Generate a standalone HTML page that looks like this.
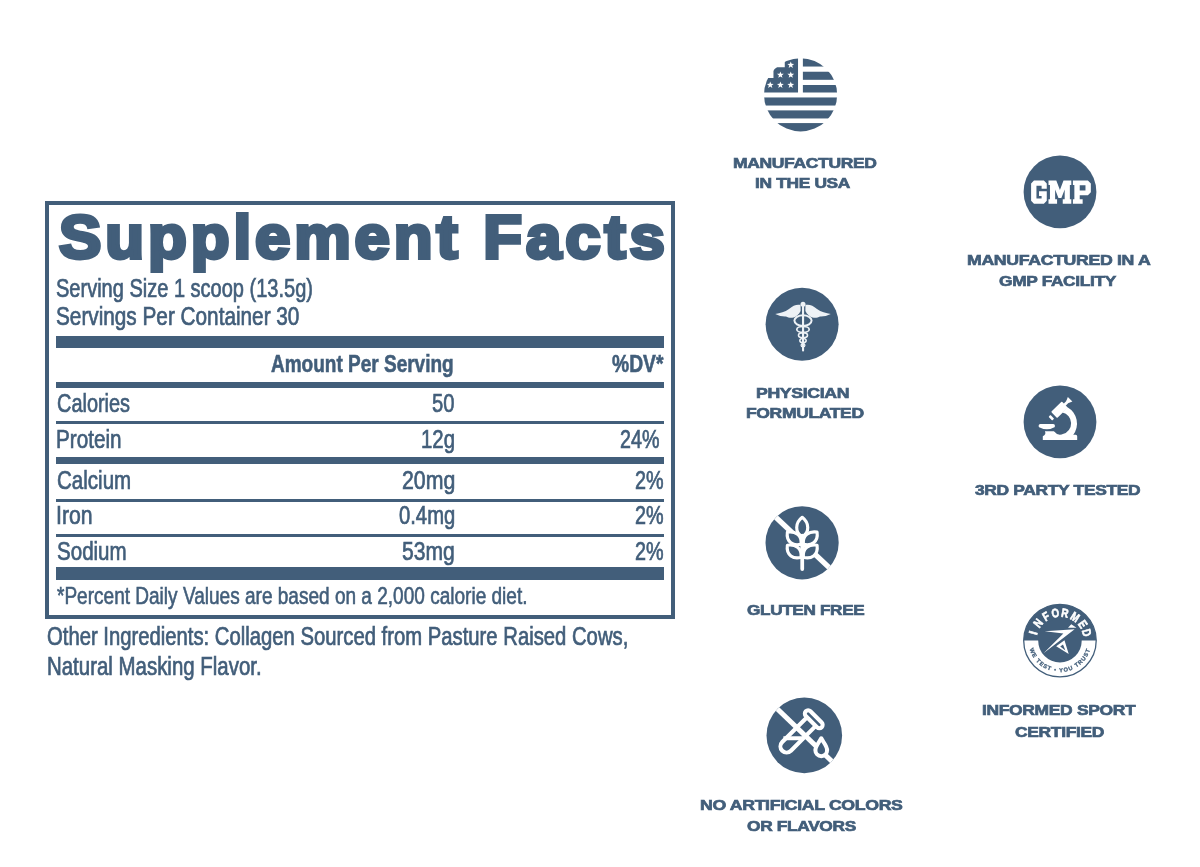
<!DOCTYPE html>
<html><head><meta charset="utf-8"><title>Supplement Facts</title>
<style>
html,body{margin:0;padding:0;background:#fff;}
body{width:1200px;height:867px;position:relative;overflow:hidden;font-family:"Liberation Sans",sans-serif;color:#425e7a;}
#wrap{position:absolute;left:0;top:0;width:1200px;height:867px;filter:blur(0.6px);}
.t{position:absolute;white-space:nowrap;line-height:1;transform-origin:0 0;}
.r{position:absolute;background:#425e7a;}
#panel{position:absolute;left:44.9px;top:201.3px;width:622.5px;height:409.3px;border:4.1px solid #425e7a;}
svg{position:absolute;overflow:visible;}
</style></head><body><div id="wrap">
<div id="panel"></div>
<div class="r" style="left:56.2px;top:336.1px;width:608.0px;height:12.3px"></div>
<div class="r" style="left:56.2px;top:382.1px;width:608.0px;height:5.5px"></div>
<div class="r" style="left:56.2px;top:420.8px;width:608.0px;height:3.1px"></div>
<div class="r" style="left:56.2px;top:457.3px;width:608.0px;height:7.0px"></div>
<div class="r" style="left:56.2px;top:499.4px;width:608.0px;height:3.1px"></div>
<div class="r" style="left:56.2px;top:533.5px;width:608.0px;height:3.1px"></div>
<div class="r" style="left:56.2px;top:567.4px;width:608.0px;height:12.5px"></div>
<div class="t" style="left:59.13px;top:205.96px;font-size:61.48px;transform:scaleX(1.0330);font-weight:700;letter-spacing:3.8px;-webkit-text-stroke:3.8px #425e7a;">Supplement Facts</div>
<div class="t" style="left:56.49px;top:276.45px;font-size:25.58px;transform:scaleX(0.7823);-webkit-text-stroke:0.7px #425e7a;">Serving Size 1 scoop (13.5g)</div>
<div class="t" style="left:56.47px;top:304.05px;font-size:25.58px;transform:scaleX(0.8114);-webkit-text-stroke:0.7px #425e7a;">Servings Per Container 30</div>
<div class="t" style="left:270.93px;top:351.88px;font-size:24.71px;transform:scaleX(0.7693);font-weight:700;-webkit-text-stroke:0.6px #425e7a;">Amount Per Serving</div>
<div class="t" style="left:611.93px;top:351.88px;font-size:24.71px;transform:scaleX(0.7805);font-weight:700;-webkit-text-stroke:0.6px #425e7a;">%DV*</div>
<div class="t" style="left:56.70px;top:390.26px;font-size:26.16px;transform:scaleX(0.7618);-webkit-text-stroke:0.7px #425e7a;">Calories</div>
<div class="t" style="left:432.00px;top:390.26px;font-size:26.16px;transform:scaleX(0.7718);-webkit-text-stroke:0.7px #425e7a;">50</div>
<div class="t" style="left:55.89px;top:425.86px;font-size:26.16px;transform:scaleX(0.7910);-webkit-text-stroke:0.7px #425e7a;">Protein</div>
<div class="t" style="left:421.19px;top:425.86px;font-size:26.16px;transform:scaleX(0.7800);-webkit-text-stroke:0.7px #425e7a;">12g</div>
<div class="t" style="left:619.51px;top:425.86px;font-size:26.16px;transform:scaleX(0.7530);-webkit-text-stroke:0.7px #425e7a;">24%</div>
<div class="t" style="left:56.69px;top:466.56px;font-size:26.16px;transform:scaleX(0.7849);-webkit-text-stroke:0.7px #425e7a;">Calcium</div>
<div class="t" style="left:401.97px;top:466.56px;font-size:26.16px;transform:scaleX(0.8147);-webkit-text-stroke:0.7px #425e7a;">20mg</div>
<div class="t" style="left:635.21px;top:466.56px;font-size:26.16px;transform:scaleX(0.7571);-webkit-text-stroke:0.7px #425e7a;">2%</div>
<div class="t" style="left:55.86px;top:501.96px;font-size:26.16px;transform:scaleX(0.8123);-webkit-text-stroke:0.7px #425e7a;">Iron</div>
<div class="t" style="left:399.00px;top:501.96px;font-size:26.16px;transform:scaleX(0.7735);-webkit-text-stroke:0.7px #425e7a;">0.4mg</div>
<div class="t" style="left:635.21px;top:501.96px;font-size:26.16px;transform:scaleX(0.7571);-webkit-text-stroke:0.7px #425e7a;">2%</div>
<div class="t" style="left:56.69px;top:537.56px;font-size:26.16px;transform:scaleX(0.7854);-webkit-text-stroke:0.7px #425e7a;">Sodium</div>
<div class="t" style="left:402.48px;top:537.56px;font-size:26.16px;transform:scaleX(0.8068);-webkit-text-stroke:0.7px #425e7a;">53mg</div>
<div class="t" style="left:635.21px;top:537.56px;font-size:26.16px;transform:scaleX(0.7571);-webkit-text-stroke:0.7px #425e7a;">2%</div>
<div class="t" style="left:56.54px;top:583.62px;font-size:23.84px;transform:scaleX(0.7988);-webkit-text-stroke:0.6px #425e7a;">*Percent Daily Values are based on a 2,000 calorie diet.</div>
<div class="t" style="left:47.47px;top:624.76px;font-size:24.85px;transform:scaleX(0.8158);-webkit-text-stroke:0.7px #425e7a;">Other Ingredients: Collagen Sourced from Pasture Raised Cows,</div>
<div class="t" style="left:46.64px;top:655.36px;font-size:24.85px;transform:scaleX(0.8225);-webkit-text-stroke:0.7px #425e7a;">Natural Masking Flavor.</div>
<div class="t" style="left:732.96px;top:154.96px;font-size:15.41px;transform:scaleX(1.1356);font-weight:700;letter-spacing:-0.3px;-webkit-text-stroke:0.7px #425e7a;">MANUFACTURED</div>
<div class="t" style="left:755.37px;top:175.16px;font-size:15.41px;transform:scaleX(1.1273);font-weight:700;letter-spacing:-0.3px;-webkit-text-stroke:0.7px #425e7a;">IN THE USA</div>
<div class="t" style="left:967.05px;top:252.06px;font-size:15.41px;transform:scaleX(1.1497);font-weight:700;letter-spacing:-0.3px;-webkit-text-stroke:0.7px #425e7a;">MANUFACTURED IN A</div>
<div class="t" style="left:998.99px;top:273.06px;font-size:15.41px;transform:scaleX(1.1249);font-weight:700;letter-spacing:-0.3px;-webkit-text-stroke:0.7px #425e7a;">GMP FACILITY</div>
<div class="t" style="left:756.36px;top:384.96px;font-size:15.41px;transform:scaleX(1.1460);font-weight:700;letter-spacing:-0.3px;-webkit-text-stroke:0.7px #425e7a;">PHYSICIAN</div>
<div class="t" style="left:746.16px;top:405.46px;font-size:15.41px;transform:scaleX(1.1356);font-weight:700;letter-spacing:-0.3px;-webkit-text-stroke:0.7px #425e7a;">FORMULATED</div>
<div class="t" style="left:974.60px;top:481.96px;font-size:15.41px;transform:scaleX(1.1310);font-weight:700;letter-spacing:-0.3px;-webkit-text-stroke:0.7px #425e7a;">3RD PARTY TESTED</div>
<div class="t" style="left:746.99px;top:602.46px;font-size:15.41px;transform:scaleX(1.1138);font-weight:700;letter-spacing:-0.3px;-webkit-text-stroke:0.7px #425e7a;">GLUTEN FREE</div>
<div class="t" style="left:699.75px;top:796.76px;font-size:15.41px;transform:scaleX(1.1488);font-weight:700;letter-spacing:-0.3px;-webkit-text-stroke:0.7px #425e7a;">NO ARTIFICIAL COLORS</div>
<div class="t" style="left:747.49px;top:817.86px;font-size:15.41px;transform:scaleX(1.1242);font-weight:700;letter-spacing:-0.3px;-webkit-text-stroke:0.7px #425e7a;">OR FLAVORS</div>
<div class="t" style="left:982.26px;top:702.26px;font-size:15.41px;transform:scaleX(1.1332);font-weight:700;letter-spacing:-0.3px;-webkit-text-stroke:0.7px #425e7a;">INFORMED SPORT</div>
<div class="t" style="left:1015.10px;top:723.56px;font-size:15.41px;transform:scaleX(1.1323);font-weight:700;letter-spacing:-0.3px;-webkit-text-stroke:0.7px #425e7a;">CERTIFIED</div>
<!-- 1: USA flag ; viewBox in 8.667x zoomed coords of region (740,40) -->
<svg style="left:740px;top:40px" width="120" height="100" viewBox="0 0 1040 866.67">
<defs><clipPath id="c1"><circle cx="525" cy="475" r="317"/></clipPath></defs>
<g clip-path="url(#c1)" fill="#425e7a">
<rect x="545" y="150" width="320" height="80"/>
<rect x="545" y="275" width="320" height="70"/>
<rect x="545" y="390" width="320" height="65"/>
<rect x="200" y="498" width="660" height="70"/>
<rect x="200" y="610" width="660" height="70"/>
<rect x="200" y="720" width="660" height="80"/>
<path d="M503,150 V455 H200 V330 H290 V237 H388 V150 Z"/>
</g>
<g fill="#fff">
<path id="st" d="M0,-31 L7.5,-10.3 29.5,-9.6 12.1,4 18.2,25.1 0,12.6 -18.2,25.1 -12.1,4 -29.5,-9.6 -7.5,-10.3Z" transform="translate(440,217)"/>
<use href="#st" x="-90" y="86"/><use href="#st" x="0" y="86"/>
<use href="#st" x="-178" y="173"/><use href="#st" x="-90" y="173"/><use href="#st" x="0" y="173"/>
</g>
</svg>

<!-- 2: GMP -->
<svg style="left:1020px;top:150px" width="80" height="84" viewBox="1020 150 80 84">
<circle cx="1060" cy="191.9" r="36.4" fill="#425e7a"/>
<g fill="#fff">
<path transform="translate(1031.1,180.5) scale(0.955,1)" d="M3,0 H13.4 L16.4,3 V8.2 H11 V5.3 H5.6 V18 H11 V15.4 H8.3 V10.8 H16.4 V20.3 L13.4,23.3 H3 L0,20.3 V3 Z"/>
<path transform="translate(1048.5,180.5) scale(0.975,1)" d="M0,0 H8 L11.7,9.5 15.4,0 H23.4 V4.5 H21.9 V18.8 H23.4 V23.3 H14.6 V18.8 H16.6 V9 L13.2,17.5 H10.2 L6.8,9 V18.8 H8.8 V23.3 H0 V18.8 H1.5 V4.5 H0 Z"/>
<path transform="translate(1072.9,180.5) scale(0.975,1)" fill-rule="evenodd" d="M0,0 H15.4 L18.4,3 V11.7 L15.4,14.7 H7 V18.8 H10 V23.3 H0 V18.8 H1.5 V4.5 H0 Z M7,4.8 H12.9 V9.9 H7 Z"/>
</g>
</svg>

<!-- 3: Caduceus -->
<svg style="left:760px;top:284px" width="84" height="82" viewBox="760 284 84 82">
<circle cx="802.1" cy="324.2" r="36.5" fill="#425e7a"/>
<g fill="#eef2f6" stroke="none">
<rect x="802" y="303" width="2.1" height="48.5" rx="1"/>
<circle cx="803" cy="304.2" r="2.5"/>
<path d="M800.6,305 C797,304 793,305.5 789,309 C785,312 780,313.3 775.2,314 C779,316 783,316.6 786,316.4 C788,317.6 791,318 793.5,317.4 C796,316.8 799,314.5 800.6,311 Z"/>
<path d="M805.4,305 C809,304 813,305.5 817,309 C821,312 826,313.3 830.8,314 C827,316 823,316.6 820,316.4 C818,317.6 815,318 812.5,317.4 C810,316.8 807,314.5 805.4,311 Z"/>
</g>
<g fill="none" stroke="#eef2f6">
<ellipse cx="803" cy="320.6" rx="8.6" ry="5.4" stroke-width="2"/>
<ellipse cx="803" cy="329.4" rx="6.2" ry="2.9" stroke-width="1.7"/>
<ellipse cx="803" cy="335.2" rx="4.5" ry="2.5" stroke-width="1.6"/>
<ellipse cx="803" cy="340.6" rx="3.2" ry="2.2" stroke-width="1.5"/>
<ellipse cx="803" cy="345.3" rx="1.9" ry="1.6" stroke-width="1.3"/>
</g>
</svg>

<!-- 4: Microscope ; zoomed 14.45x of region (1030,390) -->
<svg style="left:1020px;top:380px" width="80" height="84" viewBox="1020 380 80 84">
<circle cx="1060" cy="421.9" r="36.4" fill="#425e7a"/>
<g transform="translate(1030,390) scale(0.0692)" fill="#fff">
 <g transform="translate(425.7,285.7) rotate(-44.5)">
  <rect x="-108" y="-62" width="216" height="124" rx="12"/>
  <rect x="-183" y="-38" width="37" height="76" rx="8"/>
  <rect x="100" y="-21" width="75" height="42"/>
  <path d="M163,-23 L216,-47 V47 L163,23 Z"/>
 </g>
 <path d="M542,248 A274,274 0 0 1 624,650 L430,650 Q455,650 474.9,636.5 A161,161 0 0 0 468.1,323.8 Z"/>
 <path d="M150,493 H335 A26,26 0 0 1 335,545 Q300,568 245,568 Q190,568 150,545 A26,26 0 0 1 150,493 Z"/>
 <path d="M215,597 H345 Q380,640 430,648 H660 Q682,648 682,670 V722 H185 V668 Q240,640 215,597 Z"/>
</g>
</svg>

<!-- 5: Gluten free ; zoomed 13.333x of region (772,510) -->
<svg style="left:760px;top:500px" width="84" height="84" viewBox="760 500 84 84">
<defs><clipPath id="c5"><circle cx="802.1" cy="542.8" r="36.6"/></clipPath></defs>
<circle cx="802.1" cy="542.8" r="36.6" fill="#425e7a"/>
<g clip-path="url(#c5)">
<g transform="translate(772,510) scale(0.075)">
 <line x1="-100" y1="-46" x2="900" y2="899" stroke="#fff" stroke-width="70"/>
 <g fill="#425e7a" stroke="#fff" stroke-width="42" stroke-linejoin="round">
  <path d="M403,98 C310,170 300,300 403,355 C506,300 496,170 403,98 Z"/>
  <path d="M388,455 C290,485 185,430 205,295 C310,280 400,330 388,455 Z"/>
  <path d="M418,455 C516,485 621,430 601,295 C496,280 406,330 418,455 Z"/>
  <path d="M388,630 C290,660 185,605 205,470 C310,455 400,505 388,630 Z"/>
  <path d="M418,630 C516,660 621,605 601,470 C496,455 406,505 418,630 Z"/>
 </g>
 <line x1="403" y1="340" x2="403" y2="788" stroke="#fff" stroke-width="50" stroke-linecap="round"/>
</g></g>
</svg>

<!-- 6: No artificial colors ; zoomed 13.333x of region (774,702) -->
<svg style="left:762px;top:692px" width="86" height="86" viewBox="762 692 86 86">
<defs><clipPath id="c6"><circle cx="804.3" cy="735.4" r="37.8"/></clipPath></defs>
<circle cx="804.3" cy="735.4" r="37.8" fill="#425e7a"/>
<g clip-path="url(#c6)">
<g transform="translate(774,702) scale(0.075)" stroke="#fff" stroke-width="54" fill="none">
 <line x1="-100" y1="-47" x2="900" y2="914" stroke-width="66"/>
 <g transform="translate(530,230) rotate(45)">
  <rect x="-150" y="-44" width="300" height="88" rx="44" fill="#425e7a"/>
  <path d="M-82,44 V512 A82,82 0 0 0 82,512 V44"/>
 </g>
 <line x1="125" y1="482" x2="395" y2="482"/>
 <path d="M630,484 C660,540 708,588 708,644 A78,78 0 0 1 552,644 C552,588 600,540 630,484 Z" fill="#425e7a" stroke-linejoin="round"/>
</g></g>
</svg>

<!-- 7: Informed sport ; zoomed 10.8375x of region (1020,600) -->
<svg style="left:1020px;top:600px" width="80" height="80" viewBox="0 0 867 867">
<defs>
<path id="arcT" d="M167,440 A266,266 0 0 1 699,440"/>
<path id="arcB" d="M92,440 A341,341 0 0 0 774,440"/>
<clipPath id="c7"><rect x="0" y="0" width="867" height="438"/></clipPath>
</defs>
<circle cx="433" cy="440" r="393" fill="#fff" stroke="#425e7a" stroke-width="14"/>
<circle cx="433" cy="440" r="393" fill="#425e7a" clip-path="url(#c7)"/>
<circle cx="433" cy="440" r="236" fill="#425e7a"/>
<g font-family="Liberation Sans, sans-serif" font-weight="700" font-size="132" fill="#fff" stroke="#fff" stroke-width="7" text-anchor="middle">
<text transform="rotate(-73.7 433 440) translate(433 182) scale(0.9 1)">I</text>
<text transform="rotate(-51.5 433 440) translate(433 182) scale(0.8 1)">N</text>
<text transform="rotate(-29.8 433 440) translate(433 182) scale(0.8 1)">F</text>
<text transform="rotate(-9.5 433 440) translate(433 182) scale(0.8 1)">O</text>
<text transform="rotate(10.2 433 440) translate(433 182) scale(0.8 1)">R</text>
<text transform="rotate(32.5 433 440) translate(433 182) scale(0.78 1)">M</text>
<text transform="rotate(54.4 433 440) translate(433 182) scale(0.8 1)">E</text>
<text transform="rotate(73.9 433 440) translate(433 182) scale(0.8 1)">D</text>
</g>
<text font-family="Liberation Sans, sans-serif" font-weight="700" font-size="62" fill="#425e7a" letter-spacing="10.5" stroke="#425e7a" stroke-width="3" text-anchor="middle"><textPath href="#arcB" startOffset="50%">WE TEST • YOU TRUST</textPath></text>
<g fill="#fff">
<path d="M268,338 L592,318 L255,578 L470,362 Z"/>
<path d="M520,302 L556,264 L612,302 Z"/>
<path fill-rule="evenodd" d="M482,436 L528,584 L392,500 Z M466,482 L436,505 L492,548 Z"/>
</g>
</svg>

</div></body></html>
